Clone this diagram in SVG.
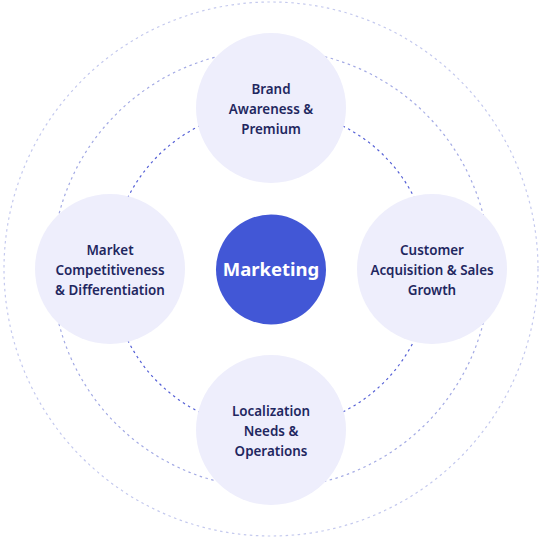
<svg xmlns="http://www.w3.org/2000/svg" width="545" height="540" viewBox="0 0 545 540">
<style>
.ring{fill:none;stroke-width:1.2}
.r1{stroke:#5560d6;stroke-dasharray:2.5 3.5}
.r2{stroke:#a3aae4;stroke-dasharray:2.5 3.5}
.r3{stroke:#c4c9ee;stroke-dasharray:2.5 3.5}
.node circle{fill:#eeeefc}
.node text{font-family:"Noto Sans","Open Sans",sans-serif;font-weight:600;font-size:13.4px;fill:#1f2760;text-anchor:middle}
#center circle{fill:#4257d6}
#center text{font-family:"Noto Sans","Open Sans",sans-serif;font-weight:700;font-size:18.5px;fill:#ffffff;text-anchor:middle}
</style>
<rect width="545" height="540" fill="#ffffff"/>
<g id="connectors">
<circle class="ring r3" cx="271" cy="269" r="267"/>
<circle class="ring r2" cx="271" cy="269" r="219"/>
<circle class="ring r1" cx="271" cy="269" r="160"/>
</g>
<g id="center">
<circle cx="271" cy="269.5" r="55"/>
<text x="271" y="276">Marketing</text>
</g>
<g id="brand" class="node">
<circle cx="271" cy="108" r="75"/>
<text x="271" y="94">Brand</text>
<text x="271" y="114">Awareness &amp;</text>
<text x="271" y="134">Premium</text>
</g>
<g id="market" class="node">
<circle cx="110" cy="269" r="75"/>
<text x="110" y="255">Market</text>
<text x="110" y="275">Competitiveness</text>
<text x="110" y="295">&amp; Differentiation</text>
</g>
<g id="customer" class="node">
<circle cx="432" cy="269" r="75"/>
<text x="432" y="255">Customer</text>
<text x="432" y="275">Acquisition &amp; Sales</text>
<text x="432" y="295">Growth</text>
</g>
<g id="localization" class="node">
<circle cx="271" cy="430" r="75"/>
<text x="271" y="416">Localization</text>
<text x="271" y="436">Needs &amp;</text>
<text x="271" y="456">Operations</text>
</g>
</svg>
